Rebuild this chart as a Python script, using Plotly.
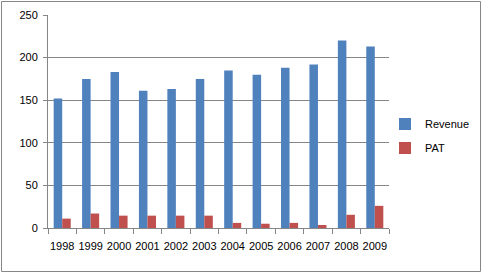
import plotly.graph_objects as go

years = ["1998", "1999", "2000", "2001", "2002", "2003", "2004", "2005", "2006", "2007", "2008", "2009"]
revenue = [152, 175, 183, 161, 163, 175, 185, 180, 188, 192, 220, 213]
pat = [11, 17, 14.5, 14.5, 14.5, 14.5, 6, 5, 6, 3.5, 15.5, 26]

W, H = 483, 274
L, R, T, B = 48, 94, 15, 46
pw, ph = W - L - R, H - T - B

fig = go.Figure()
fig.add_trace(go.Bar(x=years, y=revenue, name="Revenue", legendgroup="a",
                     marker=dict(color="#4F81BD", line=dict(width=0))))
fig.add_trace(go.Bar(x=years, y=pat, name="PAT", legendgroup="b",
                     marker=dict(color="#C0504D", line=dict(width=0))))

grid = "#868686"
fig.update_layout(
    width=W, height=H,
    margin=dict(l=L, r=R, t=T, b=B, pad=0, autoexpand=False),
    paper_bgcolor="white", plot_bgcolor="white",
    barmode="group", bargap=0.4, bargroupgap=0,
    font=dict(family="Liberation Sans", size=11, color="black"),
    showlegend=True,
    legend=dict(x=(385 - L) / pw, y=(H - B - 136) / ph, xanchor="left", yanchor="middle",
                font=dict(size=11), itemwidth=30, traceorder="grouped",
                tracegroupgap=5, bgcolor="rgba(0,0,0,0)"),
    xaxis=dict(type="category", showline=True, linecolor=grid, linewidth=1,
               ticks="outside", tickson="boundaries", ticklen=5, tickcolor=grid,
               ticklabelstandoff=8,
               showgrid=False, tickangle=0, fixedrange=True),
    yaxis=dict(range=[0, 250], dtick=50, showline=True, linecolor=grid, linewidth=1,
               ticks="outside", ticklen=4, tickcolor=grid, ticklabelstandoff=3,
               showgrid=True, gridcolor=grid, gridwidth=1, zeroline=False,
               fixedrange=True),
)

# outer chart border
fig.add_shape(type="rect", xref="paper", yref="paper",
              x0=(1.5 - L) / pw, x1=(480.5 - L) / pw,
              y0=(H - B - 271.5) / ph, y1=(H - B - 1.5) / ph,
              line=dict(color=grid, width=1), fillcolor="rgba(0,0,0,0)", layer="below")

fig.write_html("out.html", config={"displayModeBar": False})
